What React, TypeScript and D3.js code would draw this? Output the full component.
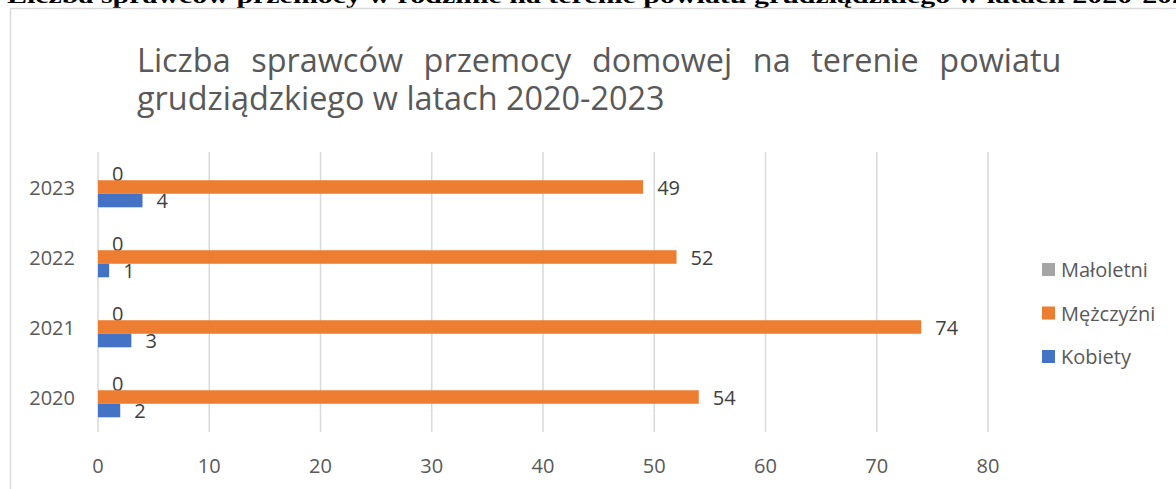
import React, { useEffect, useRef, useState } from "react";
import * as d3 from "d3";

const years = ["2023", "2022", "2021", "2020"];
const maloletni = [0, 0, 0, 0];
const mezczyzni = [49, 52, 74, 54];
const kobiety = [4, 1, 3, 2];
const xTicks = [0, 10, 20, 30, 40, 50, 60, 70, 80];
const seriesNames = ["Małoletni", "Mężczyźni", "Kobiety"];
const seriesColors = ["#A5A5A5", "#ED7D31", "#4472C4"];
const titleLine1 = "Liczba sprawców przemocy domowej na terenie powiatu";
const titleLine2 = "grudziądzkiego w latach 2020-2023";

const FONT = "'Open Sans', sans-serif";

export default function App() {
  const W = 1176, H = 489;
  const x = d3.scaleLinear().domain([0, 80]).range([98, 988]);
  const y = d3.scaleBand<string>().domain(years).range([152, 432]).paddingInner(0.42).paddingOuter(0.21);
  const inner = d3.scaleBand<string>().domain(seriesNames).range([0, y.bandwidth()]);
  const series = [maloletni, mezczyzni, kobiety];

  const l1 = useRef<SVGTextElement>(null);
  const l2 = useRef<SVGTextElement>(null);
  const [ws, setWs] = useState(0);
  const [fs2, setFs2] = useState(28);
  useEffect(() => {
    if (l1.current && l2.current) {
      const n2 = l2.current.getComputedTextLength();
      const n1 = l1.current.getComputedTextLength();
      if (n2 > 0 && n1 > 0) {
        const f = 28 * 528 / n2;
        const spaces = titleLine1.split(" ").length - 1;
        setFs2(f);
        setWs((925 - n1 * f / 28) / spaces);
      }
    }
  }, []);

  return (
    <svg width={W} height={H} style={{ position: "absolute", left: 0, top: 0, background: "#fff" }}>
      <rect x={0} y={0} width={W} height={H} fill="#fff" />
      <text x={7} y={3} fontFamily="'Liberation Serif', serif" fontWeight="bold" fontSize={21}
        textLength={1195} lengthAdjust="spacingAndGlyphs" fill="#000">
        Liczba sprawców przemocy w rodzinie na terenie powiatu grudziądzkiego w latach 2020-2023
      </text>
      <rect x={10.5} y={8.5} width={1200} height={500} fill="none" stroke="#D9D9D9" strokeWidth={1.5} />
      <text ref={l1} x={137} y={72} fontFamily={FONT} fontSize={fs2} fill="#595959"
        style={{ wordSpacing: ws + "px" }}>
        {titleLine1}
      </text>
      <text ref={l2} x={137} y={110} fontFamily={FONT} fontSize={fs2} fill="#595959">
        {titleLine2}
      </text>
      {xTicks.map((t) => (
        <g key={t}>
          <line x1={x(t)} x2={x(t)} y1={152} y2={432} stroke="#D9D9D9" strokeWidth={1.5} />
          <text x={x(t)} y={473} textAnchor="middle" fontFamily={FONT} fontSize={20} fill="#595959">{t}</text>
        </g>
      ))}
      {years.map((yr) => (
        <text key={yr} x={75} y={(y(yr) as number) + y.bandwidth() / 2 + 8} textAnchor="end"
          fontFamily={FONT} fontSize={20} fill="#595959">{yr}</text>
      ))}
      {series.map((vals, si) =>
        years.map((yr, i) => {
          const by = (y(yr) as number) + (inner(seriesNames[si]) as number);
          const bh = inner.bandwidth();
          const w = x(vals[i]) - x(0);
          return (
            <g key={si + "-" + yr}>
              {w > 0 && <rect x={x(0)} y={by} width={w} height={bh} fill={seriesColors[si]} />}
              <text x={x(vals[i]) + 14} y={by + bh / 2 + 7.5} fontFamily={FONT} fontSize={20} fill="#404040">
                {vals[i]}
              </text>
            </g>
          );
        })
      )}
      {seriesNames.map((n, i) => (
        <g key={n}>
          <rect x={1042} y={263 + i * 43.5} width={13} height={13} fill={seriesColors[i]} />
          <text x={1061} y={277 + i * 43.5} fontFamily={FONT} fontSize={20} fill="#595959">{n}</text>
        </g>
      ))}
    </svg>
  );
}
